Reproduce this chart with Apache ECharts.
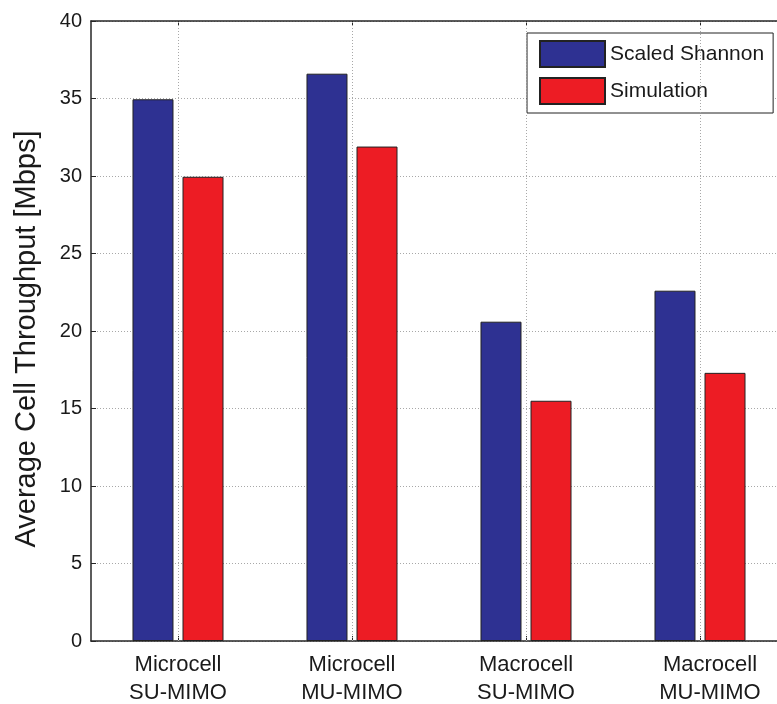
<!DOCTYPE html>
<html>
<head>
<meta charset="utf-8">
<script src="https://cdn.jsdelivr.net/npm/echarts@6/dist/echarts.min.js"></script>
<style>
html,body{margin:0;padding:0;background:#fff;}
#chart{width:777px;height:704px;}
</style>
</head>
<body>
<div id="chart"></div>
<script>
const categories = ['Microcell\nSU-MIMO', 'Microcell\nMU-MIMO', 'Macrocell\nSU-MIMO', 'Macrocell\nMU-MIMO'];
const scaledShannon = [34.95, 36.6, 20.6, 22.6];
const simulation = [29.95, 31.9, 15.5, 17.3];
const seriesNames = ['Scaled Shannon', 'Simulation'];
const yMin = 0, yMax = 40, yStep = 5;
const yTitle = 'Average Cell Throughput [Mbps]';

const FONT = '"Liberation Sans", Arial, Helvetica, sans-serif';
const axisColor = '#262626';
const gridStyle = { color: '#a8a8a8', width: 1, type: [1, 2] };

const chart = echarts.init(document.getElementById('chart'), null, { renderer: 'canvas' });
chart.setOption({
  animation: false,
  backgroundColor: '#ffffff',
  grid: { left: 91, top: 21, width: 696, height: 620, containLabel: false, outerBoundsMode: 'none' },
  legend: {
    orient: 'vertical',
    left: 527,
    top: 33,
    padding: [7, 9, 8, 12],
    itemWidth: 65,
    itemHeight: 26,
    itemGap: 9,
    borderColor: '#222',
    borderWidth: 1,
    backgroundColor: '#fff',
    icon: 'rect',
    textStyle: { fontFamily: FONT, fontSize: 21, color: '#1a1a1a', width: 152 },
    data: seriesNames
  },
  xAxis: [
    {
      type: 'category',
      data: categories,
      position: 'bottom',
      axisLine: { show: true, lineStyle: { color: axisColor, width: 1.5 } },
      axisTick: { show: true, inside: true, length: 5, alignWithLabel: true, lineStyle: { color: axisColor } },
      axisLabel: {
        interval: 0,
        fontFamily: FONT, fontSize: 22, color: '#1a1a1a', lineHeight: 28, margin: 10,
        formatter: function (v, i) {
          const parts = v.split('\n');
          const key = i === 3 ? 'r' : 'n';
          return parts.map(p => '{' + key + '|' + p + '}').join('\n');
        },
        rich: {
          n: { fontFamily: FONT, fontSize: 22, color: '#1a1a1a', lineHeight: 28 },
          r: { fontFamily: FONT, fontSize: 22, color: '#1a1a1a', lineHeight: 28, padding: [0, 0, 0, 20] }
        }
      },
      splitLine: { show: false }
    },
    {
      type: 'category',
      data: categories,
      position: 'top',
      axisLine: { show: true, lineStyle: { color: axisColor, width: 1.5 } },
      axisTick: { show: true, inside: true, length: 5, alignWithLabel: true, lineStyle: { color: axisColor } },
      axisLabel: { show: false },
      splitLine: { show: false }
    }
  ],
  yAxis: {
    type: 'value',
    min: yMin, max: yMax, interval: yStep,
    name: yTitle,
    nameLocation: 'middle',
    nameGap: 50,
    nameTextStyle: { fontFamily: FONT, fontSize: 29, color: '#1a1a1a', padding: [0, 16, 0, 0] },
    axisLine: { show: true, lineStyle: { color: axisColor, width: 1.5 } },
    axisTick: { show: true, inside: true, length: 5, lineStyle: { color: axisColor } },
    axisLabel: { fontFamily: FONT, fontSize: 20, color: '#1a1a1a', margin: 9 },
    splitLine: { show: true, lineStyle: gridStyle }
  },
  series: [
    {
      name: 'grid',
      type: 'line',
      data: [],
      silent: true,
      markLine: {
        silent: true,
        symbol: 'none',
        label: { show: false },
        lineStyle: gridStyle,
        data: categories.map(c => ({ xAxis: c }))
      }
    },
    {
      name: seriesNames[0],
      type: 'bar',
      data: scaledShannon,
      barWidth: 41,
      barGap: '22%',
      itemStyle: { color: '#2e3192', borderColor: '#222', borderWidth: 1 }
    },
    {
      name: seriesNames[1],
      type: 'bar',
      data: simulation,
      barWidth: 41,
      barGap: '22%',
      itemStyle: { color: '#ed1c24', borderColor: '#222', borderWidth: 1 }
    }
  ]
});
</script>
</body>
</html>
